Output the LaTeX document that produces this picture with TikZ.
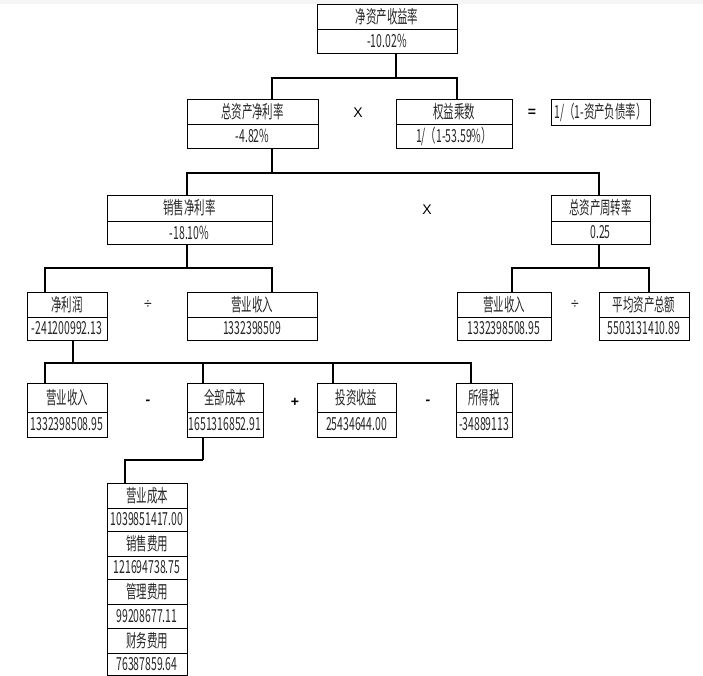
\documentclass[tikz,border=0pt]{standalone}
\usepackage{fontspec}
\setmainfont{Noto Sans CJK SC}[FakeStretch=0.58]
\newfontfamily\opfont{Liberation Sans}
\newcommand\mycell[6]{%
  \node[cellbox, minimum width={(#3-#2)*1pt}, minimum height={(#5-#4)*1pt}] (#1) at ({(#2+#3)/2},{(#4+#5)/2}) {#6};}
\begin{document}
\begin{tikzpicture}[x=1pt,y=-1pt,
  cellbox/.style={draw=black, line width=0.9pt, inner sep=0pt, text=black!85, font=\fontsize{18}{18}\selectfont},
  conn/.style={draw=black, line width=1.2pt},
  op/.style={inner sep=0pt, font=\opfont\fontsize{14}{16}\selectfont},
  opb/.style={inner sep=0pt, font=\opfont\bfseries\fontsize{14}{16}\selectfont}]
\useasboundingbox (0,0) rectangle (703,676);
\fill[black!4] (0,0) rectangle (703,4);
% level 1
\mycell{roeL}{317}{457}{4}{29}{净资产收益率}
\mycell{roeV}{317}{457}{29}{53}{-10.02\%}
% level 2
\mycell{roaL}{187}{318}{99}{124}{总资产净利率}
\mycell{roaV}{187}{318}{124}{148}{-4.82\%}
\mycell{emL}{396}{512}{99}{124}{权益乘数}
\mycell{emV}{396}{512}{124}{148}{1/（1-53.59\%）}
\mycell{formula}{551}{650}{99}{125}{1/（1-资产负债率）}
\node[op] (opx1) at (358,113) {X};
\node[opb] (opeq) at (532,113) {=};
% level 3
\mycell{npmL}{107}{272}{195}{221}{销售净利率}
\mycell{npmV}{107}{272}{221}{244}{-18.10\%}
\mycell{tatL}{551}{650}{195}{221}{总资产周转率}
\mycell{tatV}{551}{650}{221}{244}{0.25}
\node[op] (opx2) at (427,210) {X};
% level 4
\mycell{npL}{27}{107}{292}{317}{净利润}
\mycell{npV}{27}{107}{317}{340}{-241200992.13}
\mycell{revaL}{187}{317}{292}{317}{营业收入}
\mycell{revaV}{187}{317}{317}{340}{1332398509}
\node[op] (opd1) at (148,305) {÷};
\mycell{revbL}{457}{551}{292}{317}{营业收入}
\mycell{revbV}{457}{551}{317}{340}{1332398508.95}
\mycell{avgL}{599}{689}{292}{317}{平均资产总额}
\mycell{avgV}{599}{689}{317}{340}{5503131410.89}
\node[op] (opd2) at (575,305) {÷};
% level 5
\mycell{revcL}{27}{107}{383}{412}{营业收入}
\mycell{revcV}{27}{107}{412}{437}{1332398508.95}
\mycell{costL}{187}{263}{383}{412}{全部成本}
\mycell{costV}{187}{263}{412}{437}{1651316852.91}
\mycell{invL}{317}{396}{383}{412}{投资收益}
\mycell{invV}{317}{396}{412}{437}{25434644.00}
\mycell{taxL}{456}{512}{383}{412}{所得税}
\mycell{taxV}{456}{512}{412}{437}{-34889113}
\node[opb] (opm1) at (148,402) {-};
\node[opb] (opp1) at (295,402) {+};
\node[opb] (opm2) at (428,402) {-};
% level 6 stack
\mycell{s1L}{107}{187}{483}{508}{营业成本}
\mycell{s1V}{107}{187}{508}{531}{1039851417.00}
\mycell{s2L}{107}{187}{531}{556}{销售费用}
\mycell{s2V}{107}{187}{556}{579}{121694738.75}
\mycell{s3L}{107}{187}{579}{604}{管理费用}
\mycell{s3V}{107}{187}{604}{628}{99208677.11}
\mycell{s4L}{107}{187}{628}{653}{财务费用}
\mycell{s4V}{107}{187}{653}{675}{76387859.64}
% bus coordinates
\coordinate (aP) at (396,78); \coordinate (aL) at (272,78); \coordinate (aR) at (457,78);
\coordinate (bP) at (272,173); \coordinate (bL) at (187,173); \coordinate (bR) at (599,173);
\coordinate (cP) at (187,268); \coordinate (cL) at (45,268); \coordinate (cR) at (272,268);
\coordinate (dP) at (599,268); \coordinate (dL) at (512,268); \coordinate (dR) at (649,268);
\coordinate (eP) at (73,363); \coordinate (e1) at (45,363); \coordinate (e2) at (203,363);
\coordinate (e3) at (333,363); \coordinate (e4) at (471,363);
\coordinate (fP) at (203,460); \coordinate (fL) at (125,460);
% connectors
\draw[conn] (roeV.south -| aP) -- (aP);
\draw[conn] (roaL.north -| aL) |- (aR) -- (emL.north -| aR);
\draw[conn] (roaV.south -| bP) -- (bP);
\draw[conn] (npmL.north -| bL) |- (bR) -- (tatL.north -| bR);
\draw[conn] (npmV.south -| cP) -- (cP);
\draw[conn] (npL.north -| cL) |- (cR) -- (revaL.north -| cR);
\draw[conn] (tatV.south -| dP) -- (dP);
\draw[conn] (revbL.north -| dL) |- (dR) -- (avgL.north -| dR);
\draw[conn] (npV.south -| eP) -- (eP);
\draw[conn] (revcL.north -| e1) |- (e4) -- (taxL.north -| e4);
\draw[conn] (costL.north -| e2) -- (e2);
\draw[conn] (invL.north -| e3) -- (e3);
\draw[conn] (costV.south -| fP) -- (fP);
\draw[conn] (s1L.north -| fL) |- (fP);
\end{tikzpicture}
\end{document}
